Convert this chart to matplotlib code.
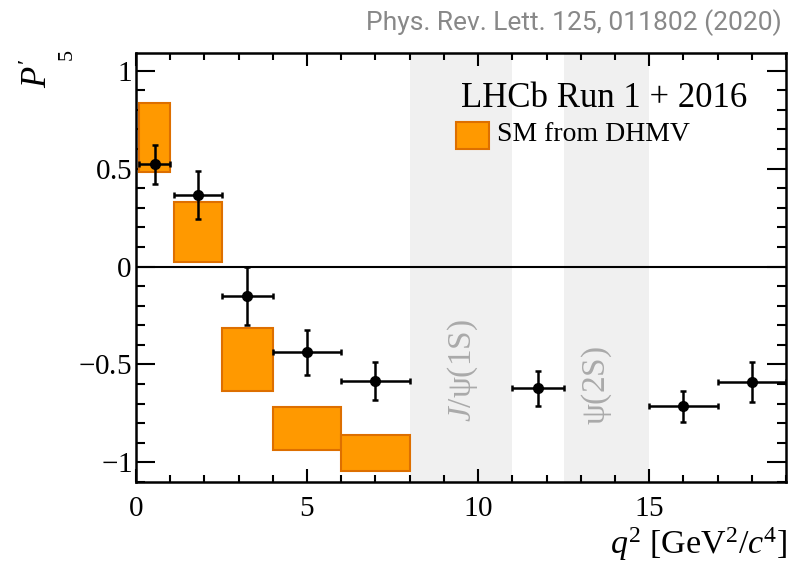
import matplotlib
matplotlib.use("Agg")
import matplotlib.pyplot as plt
from matplotlib.patches import Rectangle
from matplotlib.ticker import MultipleLocator

plt.rcParams['font.family'] = 'serif'
plt.rcParams['font.serif'] = ['Liberation Serif', 'DejaVu Serif']
plt.rcParams['mathtext.fontset'] = 'custom'
plt.rcParams['mathtext.rm'] = 'Liberation Serif'
plt.rcParams['mathtext.it'] = 'Liberation Serif:italic'
plt.rcParams['mathtext.bf'] = 'Liberation Serif:bold'

# LHCb data points
q2_lo = [0.1, 1.1, 2.5, 4.0, 6.0, 11.0, 15.0, 17.0]
q2_hi = [0.98, 2.5, 4.0, 6.0, 8.0, 12.5, 17.0, 19.0]
q2_mid = [0.54, 1.8, 3.25, 5.0, 7.0, 11.75, 16.0, 18.0]
p5 = [0.521, 0.365, -0.150, -0.439, -0.583, -0.622, -0.714, -0.590]
p5_err = [0.100, 0.122, 0.150, 0.115, 0.097, 0.090, 0.078, 0.103]

# SM prediction (DHMV) boxes
sm_lo = [0.1, 1.1, 2.5, 4.0, 6.0]
sm_hi = [0.98, 2.5, 4.0, 6.0, 8.0]
sm_min = [0.48, 0.025, -0.637, -0.939, -1.043]
sm_max = [0.833, 0.328, -0.315, -0.719, -0.859]

# charmonium vetoes
veto_lo = [8.0, 12.5]
veto_hi = [11.0, 15.0]
veto_label = [r"$J/\mathrm{\psi(1S)}$", r"$\mathrm{\psi(2S)}$"]
veto_label_x = [9.56, 13.48]
veto_label_y = [-0.53, -0.61]

x_ticks = [0, 5, 10, 15]
x_ticklabels = ['0', '5', '10', '15']
y_ticks = [-1, -0.5, 0, 0.5, 1]
y_ticklabels = ['\u22121', '\u22120.5', '0', '0.5', '1']

fig = plt.figure(figsize=(8.03, 5.63), dpi=100)
ax = fig.add_axes([0.1694, 0.1439, 0.8094, 0.762])

for lo, hi in zip(veto_lo, veto_hi):
    ax.axvspan(lo, hi, color='#f0f0f0', lw=0, zorder=0)
for x, y, s in zip(veto_label_x, veto_label_y, veto_label):
    ax.text(x, y, s, rotation=90, ha='center', va='center', fontsize=24,
            color='#aaaaaa', zorder=1)

ax.axhline(0, color='black', lw=1.5, zorder=2)

for lo, hi, a, b in zip(sm_lo, sm_hi, sm_min, sm_max):
    ax.add_patch(Rectangle((lo, a), hi - lo, b - a, facecolor='#ff9900',
                           edgecolor='#dd6f00', lw=1.5, zorder=3))

xerr = [[m - lo for m, lo in zip(q2_mid, q2_lo)],
        [hi - m for m, hi in zip(q2_mid, q2_hi)]]
ax.errorbar(q2_mid, p5, xerr=xerr, yerr=p5_err, fmt='o', color='black',
            ms=7, elinewidth=1.8, capsize=2.5, capthick=1.8, zorder=4)

ax.set_xlim(0, 19)
ax.set_ylim(-1.1, 1.09)
ax.xaxis.set_minor_locator(MultipleLocator(1))
ax.yaxis.set_minor_locator(MultipleLocator(0.1))
ax.tick_params(which='both', direction='in', top=True, right=True,
               width=1.5, labelsize=21)
ax.tick_params(axis='x', which='major', length=9.5, pad=10)
ax.tick_params(axis='x', which='minor', length=5)
ax.tick_params(axis='y', which='major', length=13.5, pad=3)
ax.tick_params(axis='y', which='minor', length=6.5)
ax.set_xticks(x_ticks)
ax.set_xticklabels([r'$\mathrm{%s}$' % t for t in x_ticklabels])
ax.set_yticks(y_ticks)
ax.set_yticklabels([r'$\mathrm{%s}$' % t for t in y_ticklabels])
for sp in ax.spines.values():
    sp.set_linewidth(1.8)

ax.text(0.94, 0.895, "LHCb Run 1 + 2016", transform=ax.transAxes,
        ha='right', va='center', fontsize=25)
ax.add_patch(Rectangle((0.492, 0.776), 0.051, 0.063, transform=ax.transAxes,
                       facecolor='#ff9900', edgecolor='#dd6f00', lw=1.5,
                       zorder=5))
ax.text(0.555, 0.809, "SM from DHMV", transform=ax.transAxes,
        ha='left', va='center', fontsize=20)

fig.text(0.048, 0.87, "$P'$", rotation=90, ha='center', va='center',
         fontsize=25)
fig.text(0.085, 0.90, r"$\mathrm{5}$", rotation=90, ha='center',
         va='center', fontsize=16)
fig.text(0.980, 0.033, r"$q^2$ [GeV$^2$/$c^4$]", ha='right', va='center',
         fontsize=24.5)
fig.text(0.974, 0.960, "Phys. Rev. Lett. 125, 011802 (2020)", ha='right',
         va='center', fontsize=19, color='#888888', family='Roboto')

fig.savefig("out.png", dpi=100)
